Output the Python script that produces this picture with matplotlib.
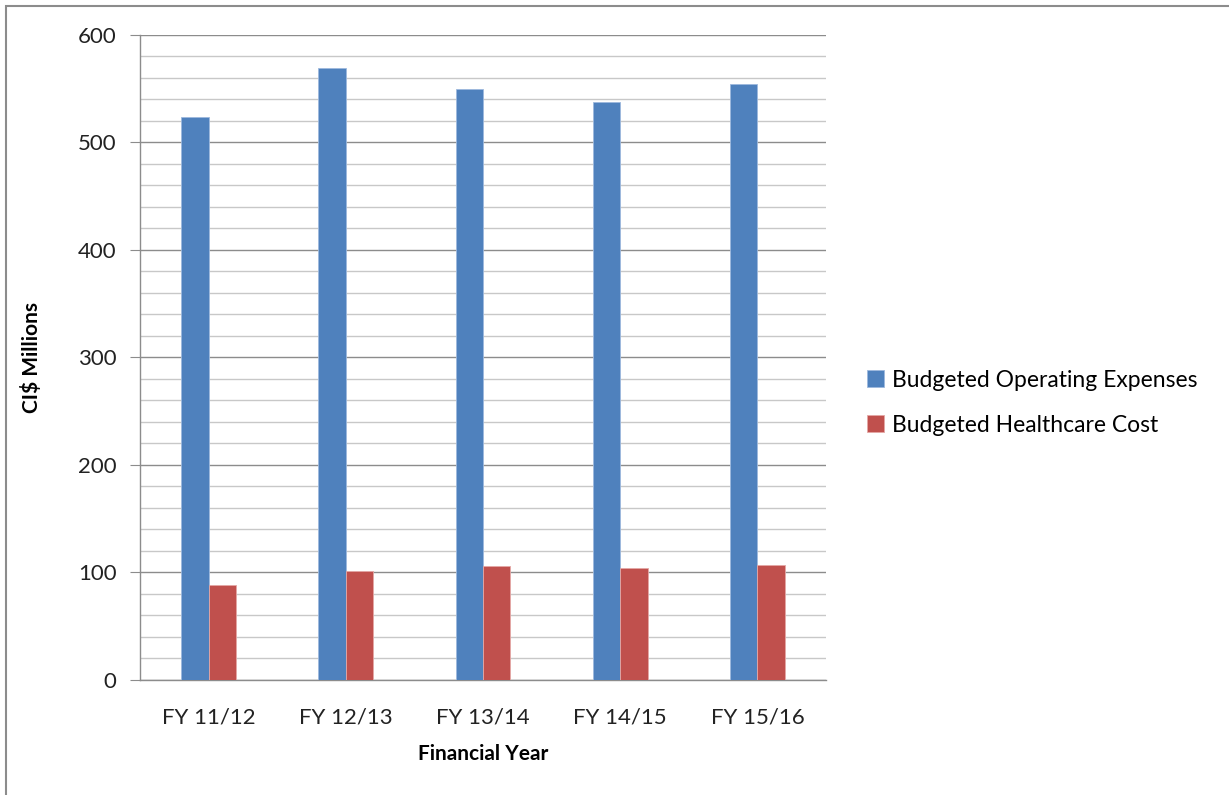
import numpy as np
import matplotlib
matplotlib.use("Agg")
import matplotlib.pyplot as plt
from matplotlib.patches import Rectangle
from matplotlib.ticker import MultipleLocator

# Values (CI$ millions)
years = ["FY 11/12", "FY 12/13", "FY 13/14", "FY 14/15", "FY 15/16"]
operating = [524, 569, 550, 538, 554]
healthcare = [88, 101, 106, 104, 107]

plt.rcParams['font.family'] = ['Lato', 'DejaVu Sans']

fig = plt.figure(figsize=(12.29, 7.95), dpi=100)
ax = fig.add_axes([0.1139, 0.1447, 0.5582, 0.8113])

x = np.arange(len(years))
w = 0.2
ax.bar(x - w / 2, operating, w, color='#4F81BD', edgecolor='#9DB9DE', linewidth=0.6,
       label='Budgeted Operating Expenses', zorder=3)
ax.bar(x + w / 2, healthcare, w, color='#C0504D', edgecolor='#E4A8A6', linewidth=0.6,
       label='Budgeted Healthcare Cost', zorder=3)

ax.set_xlim(-0.5, len(years) - 0.5)
ax.set_ylim(0, 600)
ax.yaxis.set_major_locator(MultipleLocator(100))
ax.yaxis.set_minor_locator(MultipleLocator(20))
ax.grid(True, which='major', axis='y', color='#8C8C8C', linewidth=1.0, zorder=0)
ax.grid(True, which='minor', axis='y', color='#C8C8C8', linewidth=1.0, zorder=0)

ax.set_xticks(x)
ax.set_xticklabels(years, fontsize=16, color='#222222')
ax.tick_params(axis='x', length=0, pad=20)
ax.tick_params(axis='y', which='major', length=7, color='#8C8C8C', labelsize=16,
               labelcolor='#222222', pad=10)
ax.tick_params(axis='y', which='minor', length=0)

for side in ['top', 'right']:
    ax.spines[side].set_visible(False)
for side in ['left', 'bottom']:
    ax.spines[side].set_color('#8C8C8C')
    ax.spines[side].set_linewidth(1.0)

ax.set_xlabel('Financial Year', fontsize=15, fontweight='bold', labelpad=12)
ax.set_ylabel('CI$ Millions', fontsize=15, fontweight='bold', labelpad=26)

ax.legend(loc='center left', bbox_to_anchor=(1.03, 0.43), frameon=False,
          fontsize=16.5, handlelength=0.75, handleheight=0.75, handletextpad=0.35,
          labelspacing=1.05)

# outer chart border
fig.patches.append(Rectangle((0.005, -0.01), 1.2, 1.003, transform=fig.transFigure,
                             fill=False, edgecolor='#8C8C8C', linewidth=1.5))

fig.savefig('out.png', dpi=100)
